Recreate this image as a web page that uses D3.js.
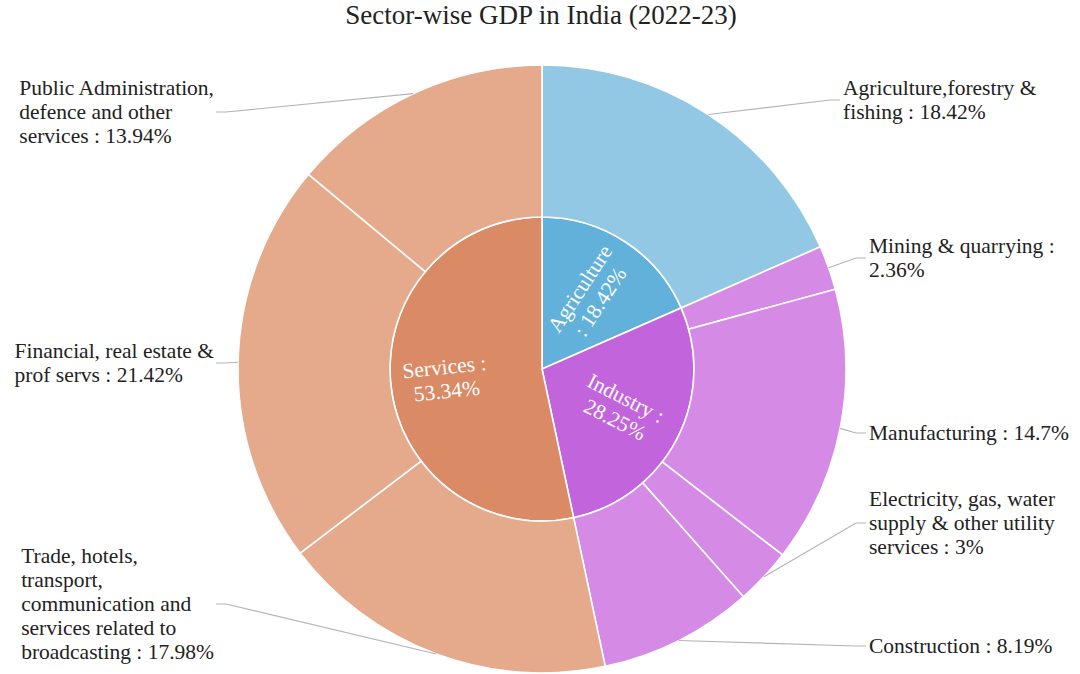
<!DOCTYPE html>
<html>
<head>
<meta charset="utf-8">
<script src="https://cdn.jsdelivr.net/npm/d3@7"></script>
<style>
  body { margin: 0; background: #fff; }
  text { font-family: "Liberation Serif", "Times New Roman", serif; }
</style>
</head>
<body>
<svg id="chart" width="1080" height="674"></svg>
<script>
// sectors (inner ring)
const sectorNames = ['Agriculture', 'Industry', 'Services'];
const sectorValues = [18.42, 28.25, 53.34];

// sub-sectors (outer ring)
const subNames = [
    'Agriculture,forestry & fishing',
    'Mining & quarrying',
    'Manufacturing',
    'Electricity, gas, water supply & other utility services',
    'Construction',
    'Trade, hotels, transport, communication and services related to broadcasting',
    'Financial, real estate & prof servs',
    'Public Administration, defence and other services'
];
const subValues = [18.42, 2.36, 14.7, 3, 8.19, 17.98, 21.42, 13.94];
const subSector = [0, 1, 1, 1, 1, 2, 2, 2];

// label text as it wraps in the picture
const innerLabelLines = [
    ['Agriculture', ': 18.42%'],
    ['Industry :', '28.25%'],
    ['Services :', '53.34%']
];
const subLabelLines = [
    ['Agriculture,forestry &', 'fishing : 18.42%'],
    ['Mining & quarrying :', '2.36%'],
    ['Manufacturing : 14.7%'],
    ['Electricity, gas, water', 'supply & other utility', 'services : 3%'],
    ['Construction : 8.19%'],
    ['Trade, hotels,', 'transport,', 'communication and', 'services related to', 'broadcasting : 17.98%'],
    ['Financial, real estate &', 'prof servs : 21.42%'],
    ['Public Administration,', 'defence and other', 'services : 13.94%']
];

// ---- layout ----
const width = 1080, height = 674;
const cx = 542, cy = 369;
const R = 304;
const fontSize = 21.5, lineHeight = 24;

// where each outer label sits (x of the line end, y of the block centre)
const labelSpots = [
    { side: 'right', x: 843, y: 100 },
    { side: 'right', x: 869, y: 258 },
    { side: 'right', x: 869, y: 433 },
    { side: 'right', x: 869, y: 523 },
    { side: 'right', x: 869, y: 646 },
    { side: 'left', x: 214, y: 604 },
    { side: 'left', x: 214, y: 363 },
    { side: 'left', x: 214, y: 112 }
];

const innerColor = d3.scaleOrdinal().domain(sectorNames).range(['#62b1da', '#c264dc', '#da8a65']);
const outerColor = d3.scaleOrdinal().domain(sectorNames).range(['#92c8e4', '#d58ae6', '#e4aa8b']);

const tree = {
    name: 'root',
    children: sectorNames.map((s, i) => ({
        name: s,
        idx: i,
        children: subNames
            .map((n, j) => ({ name: n, idx: j, value: subValues[j] }))
            .filter((d) => subSector[d.idx] === i)
    }))
};

const root = d3.partition().size([2 * Math.PI, 1])(
    d3.hierarchy(tree).sum((d) => d.value || 0)
);

const radius = d3.scaleLinear().domain([1, 3]).range([0, R]);

const arc = d3.arc()
    .startAngle((d) => d.x0)
    .endAngle((d) => d.x1)
    .innerRadius((d) => radius(d.depth))
    .outerRadius((d) => radius(d.depth + 1));

const svg = d3.select('svg#chart');

svg.append('text')
    .attr('x', 541)
    .attr('y', 24)
    .attr('text-anchor', 'middle')
    .style('font-size', '27px')
    .style('fill', '#222')
    .text('Sector-wise GDP in India (2022-23)');

const g = svg.append('g').attr('transform', 'translate(' + cx + ',' + cy + ')');

const nodes = root.descendants().filter((d) => d.depth > 0);

g.selectAll('path.slice')
    .data(nodes)
    .enter().append('path')
    .attr('class', 'slice')
    .attr('d', arc)
    .attr('fill', (d) => d.depth === 1 ? innerColor(d.data.name) : outerColor(d.parent.data.name))
    .attr('stroke', '#fff')
    .attr('stroke-width', 1.6);

// inner labels, rotated along the radius
const inner = root.children;
const innerText = g.selectAll('text.inner')
    .data(inner)
    .enter().append('text')
    .attr('class', 'inner')
    .attr('text-anchor', 'middle')
    .style('font-size', fontSize + 'px')
    .style('fill', '#fff')
    .attr('transform', (d) => {
        const a = (d.x0 + d.x1) / 2;
        const rho = a > Math.PI ? 97 : 88;
        const x = rho * Math.sin(a), y = -rho * Math.cos(a);
        let deg = a * 180 / Math.PI - 90;
        if (a > Math.PI) deg -= 180;
        return 'translate(' + x + ',' + y + ') rotate(' + deg + ')';
    });

innerText.each(function (d) {
    const lines = innerLabelLines[d.data.idx];
    const n = lines.length;
    d3.select(this).selectAll('tspan')
        .data(lines)
        .enter().append('tspan')
        .attr('x', 0)
        .attr('y', (l, i) => (i - (n - 1) / 2) * lineHeight + 7)
        .text((l) => l);
});

// outer labels with leader lines
const leaves = root.leaves();

leaves.forEach((d) => {
    const k = d.data.idx;
    const spot = labelSpots[k];
    const a = (d.x0 + d.x1) / 2;
    const sx = cx + R * Math.sin(a), sy = cy - R * Math.cos(a);
    const ex = spot.side === 'right' ? spot.x - 3 : spot.x + 2;
    const mx = spot.side === 'right' ? ex - 10 : ex + 10;

    svg.append('polyline')
        .attr('points', [[sx, sy], [mx, spot.y], [ex, spot.y]].map((p) => p.join(',')).join(' '))
        .attr('fill', 'none')
        .attr('stroke', '#b4b4b4')
        .attr('stroke-width', 1.2);

    const lines = subLabelLines[k];
    const n = lines.length;
    const t = svg.append('text')
        .style('font-size', fontSize + 'px')
        .style('fill', '#222');
    const spans = t.selectAll('tspan')
        .data(lines)
        .enter().append('tspan')
        .attr('y', (l, i) => spot.y + (i - (n - 1) / 2) * lineHeight + 7)
        .text((l) => l);

    if (spot.side === 'right') {
        spans.attr('x', spot.x);
    } else {
        let w = 0;
        spans.each(function () { w = Math.max(w, this.getComputedTextLength()); });
        spans.attr('x', spot.x - w);
    }
});
</script>
</body>
</html>
